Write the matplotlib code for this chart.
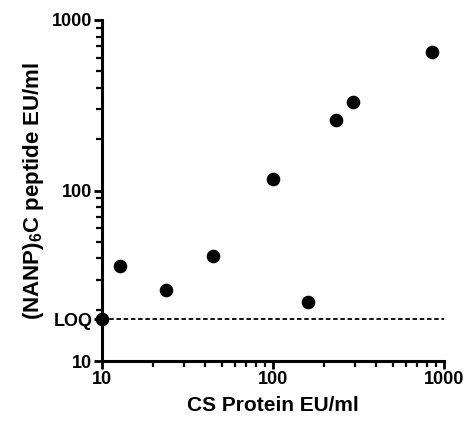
import numpy as np
import matplotlib
matplotlib.use("Agg")
import matplotlib.pyplot as plt
from matplotlib.ticker import LogLocator, NullFormatter, FixedLocator

plt.rcParams['font.family'] = ['Liberation Sans', 'DejaVu Sans']
plt.rcParams['font.weight'] = 'bold'
plt.rcParams['mathtext.fontset'] = 'custom'
plt.rcParams['mathtext.bf'] = 'Liberation Sans:bold'
plt.rcParams['mathtext.rm'] = 'Liberation Sans:bold'

# CS protein vs (NANP)6C peptide, EU/ml
cs_protein = [10, 12.7, 23.7, 44.6, 100, 160, 235, 292, 847]
nanp_peptide = [17.6, 36, 26, 41.3, 117, 22.2, 259, 330, 646]
loq = 17.6

fig = plt.figure(figsize=(4.67, 4.21), dpi=100)
ax = fig.add_axes([0.2184, 0.1425, 0.7323, 0.81])

ax.plot(cs_protein, nanp_peptide, 'o', color='black', markersize=8.8,
        clip_on=False, zorder=3)
ax.plot([10, 1000], [loq, loq], color='black', linestyle=(0, (2.5, 1.5)),
        linewidth=1.3)

ax.set_xscale('log')
ax.set_yscale('log')
ax.set_xlim(10, 1000)
ax.set_ylim(10, 1000)

for s in ['top', 'right']:
    ax.spines[s].set_visible(False)
for s in ['left', 'bottom']:
    ax.spines[s].set_linewidth(2.2)

ax.xaxis.set_major_locator(FixedLocator([10, 100, 1000]))
ax.set_xticklabels(['10', '100', '1000'])
ax.xaxis.set_minor_locator(LogLocator(base=10, subs=np.arange(2, 10)))
ax.xaxis.set_minor_formatter(NullFormatter())

ax.yaxis.set_major_locator(FixedLocator([10, loq, 100, 1000]))
ax.set_yticklabels(['10', 'LOQ', '100', '1000'])
ax.yaxis.set_minor_locator(LogLocator(base=10, subs=np.arange(2, 10)))
ax.yaxis.set_minor_formatter(NullFormatter())

ax.tick_params(which='major', length=6, width=2.0, labelsize=13, pad=1)
ax.tick_params(which='minor', length=4, width=1.6)
for lab in ax.get_xticklabels() + ax.get_yticklabels():
    lab.set_fontweight('bold')

ax.set_xlabel('CS Protein EU/ml', fontsize=15, fontweight='bold', labelpad=6)
ax.set_ylabel(r'(NANP)$_{\mathbf{6}}$C peptide EU/ml', fontsize=16,
              fontweight='bold', labelpad=4)

fig.savefig('out.png', dpi=100)
